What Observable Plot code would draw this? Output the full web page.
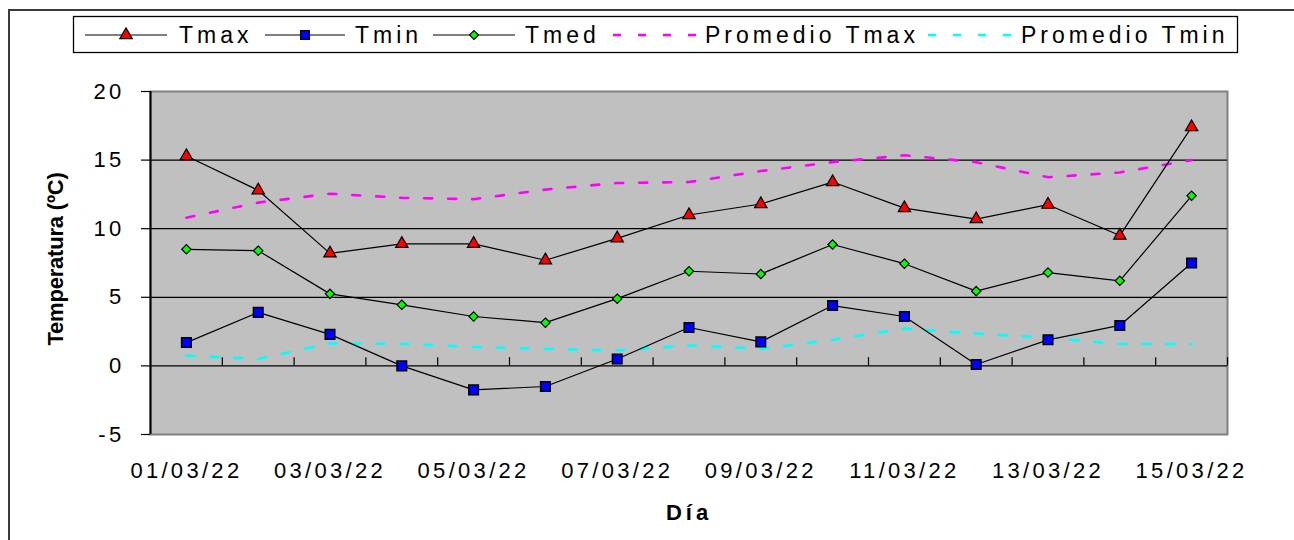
<!DOCTYPE html>
<html><head><meta charset="utf-8">
<script src="https://cdn.jsdelivr.net/npm/d3@7"></script>
<script src="https://cdn.jsdelivr.net/npm/@observablehq/plot@0.6"></script>
<style>
body{margin:0;background:#fff;}
#wrap{position:relative;width:1294px;height:540px;overflow:hidden;font-family:"Liberation Sans",Arial,sans-serif;}
#frame{position:absolute;left:8px;top:9px;width:1400px;height:700px;border-left:2px solid #3a3a3a;border-top:2px solid #3a3a3a;}
#chart{position:absolute;left:0;top:0;}
#legend{position:absolute;left:0;top:0;}
</style></head>
<body><div id="wrap"><div id="frame"></div><div id="chart"></div></div>
<script>
const days = ["01/03/22","02/03/22","03/03/22","04/03/22","05/03/22","06/03/22","07/03/22","08/03/22","09/03/22","10/03/22","11/03/22","12/03/22","13/03/22","14/03/22","15/03/22"];
const tmax = [15.3, 12.8, 8.2, 8.9, 8.9, 7.7, 9.3, 11.0, 11.8, 13.4, 11.5, 10.7, 11.75, 9.5, 17.4];
const tmin = [1.7, 3.9, 2.3, 0.0, -1.75, -1.5, 0.5, 2.8, 1.75, 4.4, 3.6, 0.1, 1.9, 2.95, 7.5];
const tmed = [8.5, 8.4, 5.25, 4.45, 3.6, 3.15, 4.9, 6.9, 6.7, 8.85, 7.45, 5.45, 6.8, 6.2, 12.4];
const promTmax = [10.8, 11.9, 12.55, 12.25, 12.15, 12.85, 13.33, 13.4, 14.2, 14.85, 15.35, 14.85, 13.75, 14.1, 15.0];
const promTmin = [0.75, 0.5, 1.65, 1.6, 1.38, 1.24, 1.12, 1.5, 1.24, 1.9, 2.72, 2.35, 2.05, 1.6, 1.58];
const yTicks = [-5, 0, 5, 10, 15, 20];
const gridValues = [0, 5, 10, 15];
const labelDays = [1, 3, 5, 7, 9, 11, 13, 15];
const legendNames = ["Tmax", "Tmin", "Tmed", "Promedio Tmax", "Promedio Tmin"];

const rows = days.map((d, i) => ({i: i + 1, day: d, tmax: tmax[i], tmin: tmin[i], tmed: tmed[i], pmax: promTmax[i], pmin: promTmin[i]}));
const boundaries = d3.range(1.5, 15.6, 1);
const font = "'Liberation Sans', Arial, sans-serif";

const chart = Plot.plot({
  width: 1294, height: 540,
  marginLeft: 150, marginRight: 67, marginTop: 91, marginBottom: 106,
  x: {type: "linear", domain: [0.5, 15.5], axis: null},
  y: {domain: [-5, 20], axis: null},
  style: {fontFamily: font, background: "transparent", color: "#000"},
  marks: [
    Plot.frame({fill: "#c0c0c0", stroke: "#808080", strokeWidth: 2}),
    Plot.ruleY(gridValues, {stroke: "#000", strokeWidth: 1.2}),
    Plot.ruleX(boundaries, {y1: 0, y2: 0.6, stroke: "#000", strokeWidth: 1.2}),
    Plot.ruleX([0.5], {stroke: "#000", strokeWidth: 2}),
    Plot.axisY(yTicks, {tickSize: 9, tickPadding: 17, fontSize: 22, stroke: "#000", strokeWidth: 1.2, label: null, tickFormat: d => String(d)}),
    Plot.axisX(labelDays, {tickSize: 0, tickPadding: 28, fontSize: 22, label: null, tickFormat: i => days[i - 1]}),
    Plot.text(["Temperatura (ºC)"], {frameAnchor: "left", textAnchor: "middle", lineAnchor: "middle", dx: -95, dy: -4, rotate: -90, fontWeight: "bold", fontSize: 22, className: "nosp"}),
    Plot.text(["Día"], {frameAnchor: "bottom", textAnchor: "middle", lineAnchor: "middle", dy: 78, fontWeight: "bold", fontSize: 22, className: "sp4"}),
    Plot.lineY(rows, {x: "i", y: "pmax", stroke: "#ff00ff", strokeWidth: 2.6, strokeDasharray: "8,16"}),
    Plot.lineY(rows, {x: "i", y: "pmin", stroke: "#00ffff", strokeWidth: 2.6, strokeDasharray: "8,16"}),
    Plot.lineY(rows, {x: "i", y: "tmax", stroke: "#000", strokeWidth: 1.2}),
    Plot.lineY(rows, {x: "i", y: "tmin", stroke: "#000", strokeWidth: 1.2}),
    Plot.lineY(rows, {x: "i", y: "tmed", stroke: "#000", strokeWidth: 1.2}),
    Plot.dot(rows, {x: "i", y: "tmax", symbol: "triangle", r: 4.6, fill: "#ff0000", stroke: "#000", strokeWidth: 1.2}),
    Plot.dot(rows, {x: "i", y: "tmin", symbol: "square", r: 5.4, fill: "#0000ff", stroke: "#000", strokeWidth: 1.5}),
    Plot.dot(rows, {x: "i", y: "tmed", symbol: "diamond2", r: 4.2, fill: "#00ff00", stroke: "#000", strokeWidth: 1.2})
  ]
});
d3.select(chart).selectAll("text").style("letter-spacing", "3.3px");
d3.select(chart).selectAll(".nosp text").style("letter-spacing", "-0.2px");
d3.select(chart).selectAll(".sp4 text").style("letter-spacing", "4px");
document.getElementById("chart").appendChild(chart);

// Legend
const lg = d3.select("#wrap").append("svg").attr("id", "legend").attr("width", 1294).attr("height", 60);
lg.append("rect").attr("x", 73.5).attr("y", 16.5).attr("width", 1164).attr("height", 36).attr("fill", "#fff").attr("stroke", "#000").attr("stroke-width", 1.3);
const items = [
  {name: legendNames[0], x0: 85, x1: 167, sym: d3.symbolTriangle, r: 4.6, fill: "#ff0000", line: "#000", tx: 179},
  {name: legendNames[1], x0: 265, x1: 345, sym: d3.symbolSquare, r: 5.0, fill: "#0000ff", line: "#000", tx: 355},
  {name: legendNames[2], x0: 433, x1: 515, sym: d3.symbolDiamond2, r: 4.0, fill: "#00ff00", line: "#000", tx: 525},
  {name: legendNames[3], x0: 613, x1: 698, sym: null, line: "#ff00ff", tx: 705},
  {name: legendNames[4], x0: 928, x1: 1013, sym: null, line: "#00ffff", tx: 1021}
];
const ly = 35;
for (const it of items) {
  const g = lg.append("g");
  if (it.sym) {
    g.append("line").attr("x1", it.x0).attr("x2", it.x1).attr("y1", ly).attr("y2", ly).attr("stroke", "#000").attr("stroke-width", 1.2);
    g.append("path").attr("d", d3.symbol(it.sym, Math.PI * it.r * it.r)()).attr("transform", `translate(${(it.x0 + it.x1) / 2},${ly})`)
      .attr("fill", it.fill).attr("stroke", "#000").attr("stroke-width", 1.2);
  } else {
    g.append("line").attr("x1", it.x0).attr("x2", it.x1).attr("y1", ly).attr("y2", ly).attr("stroke", it.line).attr("stroke-width", 2.6).attr("stroke-dasharray", "8,17");
  }
  g.append("text").attr("x", it.tx).attr("y", ly + 8).attr("font-family", font).attr("font-size", 23).style("letter-spacing", "4px").attr("fill", "#000").text(it.name);
}
</script>
</body></html>
